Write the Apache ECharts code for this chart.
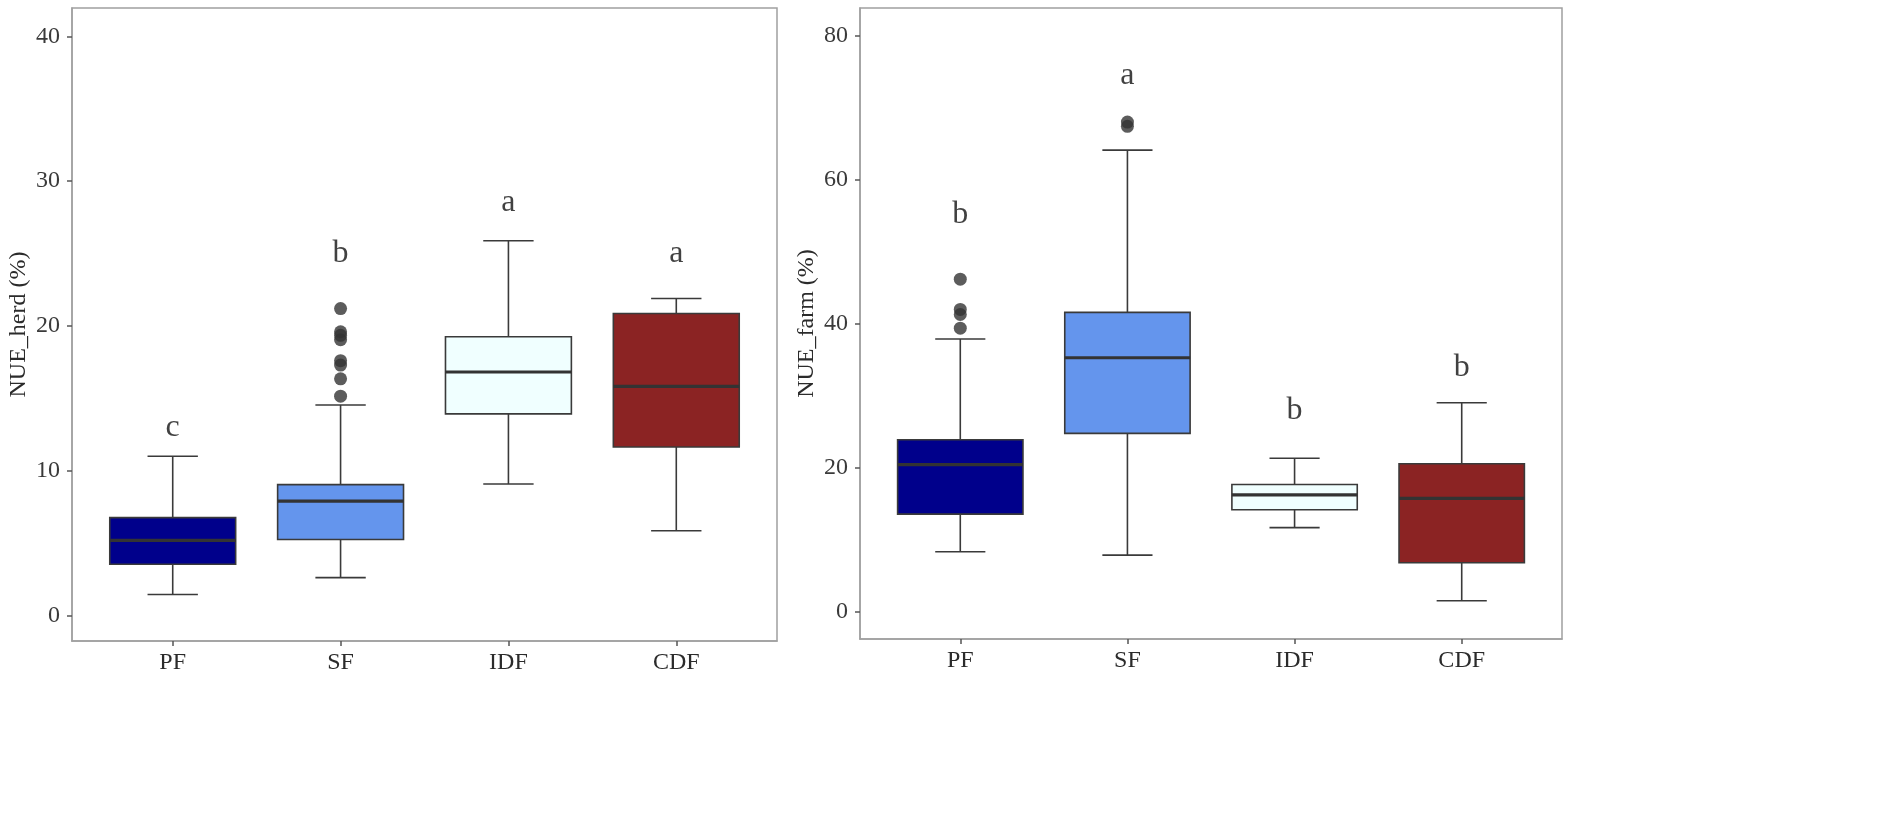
<!DOCTYPE html>
<html>
<head>
<meta charset="utf-8">
<script src="https://cdn.jsdelivr.net/npm/echarts@6/dist/echarts.min.js"></script>
<style>
html,body{margin:0;padding:0;background:#fff;}
#chart{width:1902px;height:822px;}
</style>
</head>
<body>
<div id="chart"></div>
<script>
// ---------- data ----------
const categories = ['PF', 'SF', 'IDF', 'CDF'];

// NUE_herd (%)
const herdLow    = [1.45, 2.62, 9.08, 5.85];
const herdQ1     = [3.54, 5.25, 13.93, 11.64];
const herdMedian = [5.19, 7.90, 16.82, 15.83];
const herdQ3     = [6.76, 9.04, 19.25, 20.86];
const herdHigh   = [11.0, 14.54, 25.88, 21.9];
const herdOutlierCat = [1, 1, 1, 1, 1, 1, 1, 1];
const herdOutlierVal = [15.15, 16.35, 17.3, 17.6, 19.05, 19.35, 19.6, 21.2];
const herdLetters  = ['c', 'b', 'a', 'a'];
const herdLetterY  = [13.0, 25.0, 28.5, 25.0];
const herdTicks    = [0, 10, 20, 30, 40];

// NUE_farm (%)
const farmLow    = [8.38, 7.92, 11.73, 1.58];
const farmQ1     = [13.6, 24.8, 14.22, 6.85];
const farmMedian = [20.47, 35.3, 16.28, 15.8];
const farmQ3     = [23.92, 41.6, 17.72, 20.6];
const farmHigh   = [37.9, 64.1, 21.35, 29.06];
const farmOutlierCat = [0, 0, 0, 0, 1, 1];
const farmOutlierVal = [39.4, 41.3, 42.0, 46.2, 67.4, 68.0];
const farmLetters  = ['b', 'a', 'b', 'b'];
const farmLetterY  = [55.1, 74.5, 28.0, 33.9];
const farmTicks    = [0, 20, 40, 60, 80];

// ---------- styles ----------
const boxColors = ['#00008B', '#6495ED', '#F0FFFF', '#8B2323'];
const FONT = '"Liberation Serif", "Times New Roman", serif';
const LINE = '#3a3a3a';
const FRAME = '#a0a0a0';

function boxData(low, q1, med, q3, high) {
  return categories.map((c, i) => [i, low[i], q1[i], med[i], q3[i], high[i]]);
}

function renderBox(params, api) {
  const x = api.value(0);
  const low = api.coord([x, api.value(1)]);
  const q1 = api.coord([x, api.value(2)]);
  const med = api.coord([x, api.value(3)]);
  const q3 = api.coord([x, api.value(4)]);
  const high = api.coord([x, api.value(5)]);
  const boxW = api.size([0.75, 0])[0];
  const capW = api.size([0.3, 0])[0];
  const cx = q1[0];
  const lineStyle = { stroke: LINE, lineWidth: 1.6 };
  return {
    type: 'group',
    children: [
      { type: 'line', shape: { x1: cx, y1: low[1], x2: cx, y2: q1[1] }, style: lineStyle },
      { type: 'line', shape: { x1: cx, y1: q3[1], x2: cx, y2: high[1] }, style: lineStyle },
      { type: 'line', shape: { x1: cx - capW / 2, y1: low[1], x2: cx + capW / 2, y2: low[1] }, style: lineStyle },
      { type: 'line', shape: { x1: cx - capW / 2, y1: high[1], x2: cx + capW / 2, y2: high[1] }, style: lineStyle },
      { type: 'rect', shape: { x: cx - boxW / 2, y: q3[1], width: boxW, height: q1[1] - q3[1] },
        style: { fill: boxColors[params.dataIndex], stroke: LINE, lineWidth: 1.6 } },
      { type: 'line', shape: { x1: cx - boxW / 2, y1: med[1], x2: cx + boxW / 2, y2: med[1] },
        style: { stroke: '#333', lineWidth: 3.2 } }
    ]
  };
}

function xAxisFor(gridIndex) {
  return {
    type: 'value', gridIndex: gridIndex, min: -0.6, max: 3.6,
    splitLine: { show: false },
    axisLine: { show: true, onZero: false, lineStyle: { color: FRAME, width: 1.5 } },
    axisTick: { show: true, length: 5, customValues: [0, 1, 2, 3], lineStyle: { color: '#555', width: 1.5 } },
    axisLabel: {
      customValues: [0, 1, 2, 3], margin: 10,
      formatter: v => categories[Math.round(v)],
      fontFamily: FONT, fontSize: 24, color: '#2b2b2b'
    }
  };
}

function yAxisFor(gridIndex, min, max, ticks, name) {
  return {
    type: 'value', gridIndex: gridIndex, min: min, max: max,
    name: name, nameLocation: 'middle', nameGap: 41,
    nameTextStyle: { fontFamily: FONT, fontSize: 24, color: '#2b2b2b' },
    splitLine: { show: false },
    axisLine: { show: true, onZero: false, lineStyle: { color: FRAME, width: 1.5 } },
    axisTick: { show: true, length: 5, customValues: ticks, lineStyle: { color: '#555', width: 1.5 } },
    axisLabel: {
      customValues: ticks, margin: 12,
      fontFamily: FONT, fontSize: 24, color: '#3a3a3a'
    }
  };
}

function letterSeries(idx, ys, letters) {
  return {
    type: 'scatter', xAxisIndex: idx, yAxisIndex: idx,
    symbolSize: 0, silent: true,
    data: categories.map((c, i) => [i, ys[i], letters[i]]),
    label: {
      show: true, position: 'inside', formatter: p => p.value[2],
      fontFamily: FONT, fontSize: 32, color: '#111'
    }
  };
}

function outlierSeries(idx, cats, vals) {
  return {
    type: 'scatter', xAxisIndex: idx, yAxisIndex: idx,
    symbol: 'circle', symbolSize: 13, silent: true,
    itemStyle: { color: '#333' },
    data: cats.map((c, i) => [c, vals[i]])
  };
}

const chart = echarts.init(document.getElementById('chart'), null, { renderer: 'canvas' });
chart.setOption({
  backgroundColor: '#fff',
  animation: false,
  grid: [
    { left: 72, top: 8, width: 705, height: 633, show: true, borderColor: FRAME, borderWidth: 1.5, backgroundColor: 'transparent' },
    { left: 860, top: 8, width: 702, height: 631, show: true, borderColor: FRAME, borderWidth: 1.5, backgroundColor: 'transparent' }
  ],
  xAxis: [xAxisFor(0), xAxisFor(1)],
  yAxis: [
    yAxisFor(0, -1.76, 41.96, herdTicks, 'NUE_herd (%)'),
    yAxisFor(1, -3.72, 83.82, farmTicks, 'NUE_farm (%)')
  ],
  series: [
    { type: 'custom', xAxisIndex: 0, yAxisIndex: 0, renderItem: renderBox,
      data: boxData(herdLow, herdQ1, herdMedian, herdQ3, herdHigh) },
    outlierSeries(0, herdOutlierCat, herdOutlierVal),
    letterSeries(0, herdLetterY, herdLetters),
    { type: 'custom', xAxisIndex: 1, yAxisIndex: 1, renderItem: renderBox,
      data: boxData(farmLow, farmQ1, farmMedian, farmQ3, farmHigh) },
    outlierSeries(1, farmOutlierCat, farmOutlierVal),
    letterSeries(1, farmLetterY, farmLetters)
  ]
});
</script>
</body>
</html>
